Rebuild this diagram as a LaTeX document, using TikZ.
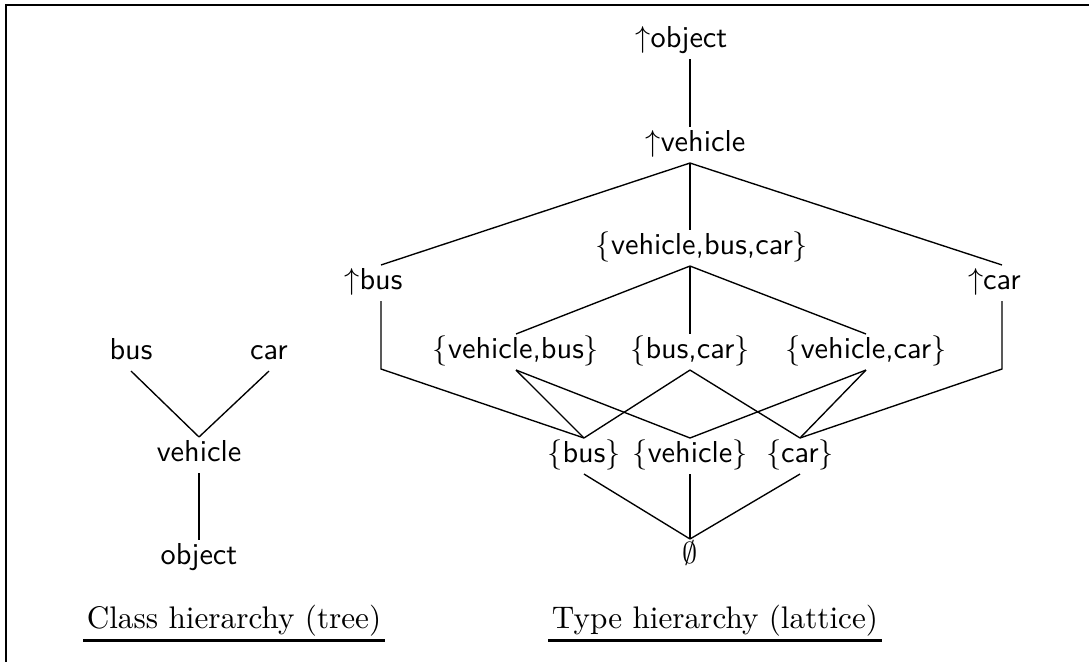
\documentclass[tikz,border=0pt]{standalone}
\usepackage{tikz}
\usetikzlibrary{positioning}

\begin{document}
\begin{tikzpicture}[x=0.33pt,y=-0.33pt]
        \tikzset{lbl/.style = {font=\sffamily, text height=7pt, text depth=2.5pt, inner sep=1pt}}
        \tikzset{c/.style = {line width=0.45pt}}
        \tikzset{caption/.style = {anchor=base, font=\fontsize{10.3pt}{12pt}\selectfont, inner xsep=1pt, inner ysep=0pt, text depth=4pt}}
        \tikzset{uline/.style = {line width=1pt}}

        \useasboundingbox (0,0) rectangle (1089,662);
        \draw[line width=0.9pt] (1089,5) -- (6,5) -- (6,662);

        % class hierarchy
        \node[lbl] (cbus) at (131,353) {bus};
        \node[lbl] (ccar) at (269,353) {car};
        \node[lbl] (cveh) at (199,455) {vehicle};
        \node[lbl] (cobj) at (199,558) {object};

        \draw[c] (cbus.south) -- (cveh.north);
        \draw[c] (ccar.south) -- (cveh.north);
        \draw[c] (cveh.south) -- (cobj.north);

        % type hierarchy
        \coordinate (axis) at (690,0);
        \node[lbl] (tobj) at (689,41) {\llap{$\uparrow$}object};
        \node[lbl] (tveh) at (703,145) {\llap{$\uparrow$}vehicle};
        \node[lbl] (tvbc) at (702,248) {$\{$vehicle,bus,car$\}$};
        \node[lbl] (tbus) at (381,283) {\llap{$\uparrow$}bus};
        \node[lbl] (tcar) at (1002,283) {\llap{$\uparrow$}car};
        \node[lbl] (tvb) at (516,352) {$\{$vehicle,bus$\}$};
        \node[lbl] (tbc) at (690,352) {$\{$bus,car$\}$};
        \node[lbl] (tvc) at (866,352) {$\{$vehicle,car$\}$};
        \node[lbl] (sbus) at (584,456) {$\{$bus$\}$};
        \node[lbl] (sveh) at (690,456) {$\{$vehicle$\}$};
        \node[lbl] (scar) at (800,456) {$\{$car$\}$};
        \node[lbl] (empty) at (690,557) {$\emptyset$};

        \coordinate (bknee) at (381,369);
        \coordinate (cknee) at (1002,369);

        \draw[c] (tobj.south -| axis) -- (tveh.north -| axis);
        \draw[c] (tveh.south -| axis) -- (tbus.north);
        \draw[c] (tveh.south -| axis) -- (tvbc.north -| axis);
        \draw[c] (tveh.south -| axis) -- (tcar.north);

        \draw[c] (tvbc.south -| axis) -- (tvb.north);
        \draw[c] (tvbc.south -| axis) -- (tbc.north);
        \draw[c] (tvbc.south -| axis) -- (tvc.north);

        \draw[c] (tbus.south) -- (bknee) -- (sbus.north);
        \draw[c] (tcar.south) -- (cknee) -- (scar.north);
        \draw[c] (tvb.south) -- (sbus.north);
        \draw[c] (tvb.south) -- (sveh.north);
        \draw[c] (tbc.south) -- (sbus.north);
        \draw[c] (tbc.south) -- (scar.north);
        \draw[c] (tvc.south) -- (sveh.north);
        \draw[c] (tvc.south) -- (scar.north);

        \draw[c] (sbus.south) -- (empty.north);
        \draw[c] (sveh.south) -- (empty.north);
        \draw[c] (scar.south) -- (empty.north);

        % captions
        \node[caption] (ctree) at (234,628) {Class hierarchy (tree)};
        \node[caption] (clat) at (715,628) {Type hierarchy (lattice)};
        \draw[uline] (ctree.south west) -- (ctree.south east);
        \draw[uline] (clat.south west) -- (clat.south east);

    \end{tikzpicture}
\end{document}
